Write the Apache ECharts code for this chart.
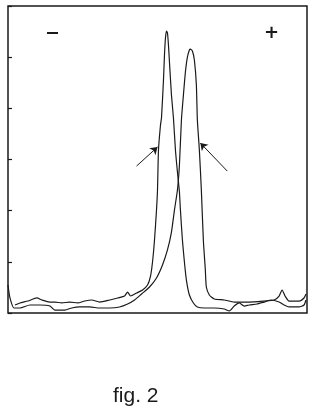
<!DOCTYPE html>
<html>
<head>
<meta charset="utf-8">
<script src="https://cdn.jsdelivr.net/npm/echarts@6/dist/echarts.min.js"></script>
<style>
  html, body { margin: 0; padding: 0; background: #fff; }
  #chart { width: 318px; height: 418px; }
</style>
</head>
<body>
<div id="chart"></div>
<script>
// 曲线数据 (位置, 强度)
const minusX = [7, 12, 20, 29, 34, 42, 47, 54, 62, 70, 77, 84, 92, 102, 110, 117, 120, 123, 129, 135, 140, 143, 145, 147, 149, 150, 151, 153, 154, 156, 157, 158, 159, 160, 161, 162, 164, 166, 168, 170, 172, 173, 175, 177, 179, 182, 186, 190, 197, 207, 217, 222, 227, 232, 237, 242, 250, 257, 264, 272, 277, 282, 292, 297, 299];
const minusY = [7.8, 9.8, 11.7, 14.7, 12.7, 10.7, 10.7, 9.8, 10.7, 9.8, 11.7, 12.7, 10.7, 12.7, 14.7, 16.6, 20.5, 16.6, 19.5, 22.5, 27.4, 36.1, 49.8, 71.3, 100.6, 120.2, 159.3, 183.7, 190.5, 227.6, 252.1, 268.7, 275.5, 273.6, 261.8, 245.2, 213.0, 190.5, 159.3, 137.8, 118.2, 100.6, 71.3, 49.8, 32.2, 17.6, 9.8, 5.9, 4.9, 4.9, 3.9, 2.0, 6.8, 9.8, 6.8, 7.8, 8.8, 10.7, 12.7, 10.7, 7.8, 5.9, 5.9, 7.8, 12.7];

const plusX = [0, 2, 6, 12, 22, 32, 42, 47, 57, 64, 72, 82, 92, 102, 112, 120, 127, 134, 142, 149, 155, 160, 164, 167, 170, 172, 174, 176, 178, 180, 182, 183, 185, 187, 189, 190, 192, 194, 196, 198, 199, 202, 207, 217, 227, 242, 257, 267, 272, 275, 278, 282, 292, 297, 299];
const plusY = [27.4, 14.7, 4.9, 4.9, 7.8, 7.8, 6.8, 2.9, 2.9, 4.9, 5.9, 5.9, 4.9, 4.9, 5.9, 8.8, 12.7, 18.6, 25.4, 34.2, 46.9, 61.6, 79.1, 100.6, 120.2, 144.6, 188.6, 213.0, 235.5, 250.1, 257.0, 257.9, 256.0, 247.2, 222.8, 188.6, 159.3, 120.2, 71.3, 42.0, 25.4, 17.6, 13.7, 12.7, 10.7, 10.7, 11.7, 12.7, 16.6, 22.5, 16.6, 11.7, 11.7, 14.7, 18.6];

// 箭头 [起点x, 起点y, 终点x, 终点y]
const arrows = [
    [129, 143.6, 150, 162.2],
    [220, 138.7, 193, 166.1]
];

const yTicks = [0, 50, 100, 150, 200, 250, 300];

const ink = '#1a1a1a';
const chart = echarts.init(document.getElementById('chart'));

const toPairs = (xs, ys) => xs.map((x, i) => [x, ys[i]]);

chart.setOption({
    backgroundColor: '#fff',
    animation: false,
    grid: {
        left: 8, top: 6, right: 11, bottom: 105,
        show: true, borderColor: ink, borderWidth: 1.5
    },
    xAxis: {
        type: 'value', min: 0, max: 300,
        axisLine: { show: false },
        axisTick: { show: false },
        axisLabel: { show: false },
        splitLine: { show: false }
    },
    yAxis: {
        type: 'value', min: yTicks[0], max: yTicks[yTicks.length - 1], interval: 50,
        axisLine: { show: false },
        axisTick: { show: true, inside: true, length: 4, lineStyle: { color: ink, width: 1.2 } },
        axisLabel: { show: false },
        splitLine: { show: false }
    },
    series: [
        {
            name: '-',
            type: 'line',
            data: toPairs(minusX, minusY),
            showSymbol: false,
            smooth: 0.2,
            lineStyle: { color: ink, width: 1.2 },
            markLine: {
                silent: true,
                symbol: ['none', 'arrow'],
                symbolSize: 7,
                label: { show: false },
                lineStyle: { color: ink, width: 1, type: 'solid' },
                data: arrows.map(a => [{ coord: [a[0], a[1]] }, { coord: [a[2], a[3]] }])
            }
        },
        {
            name: '+',
            type: 'line',
            data: toPairs(plusX, plusY),
            showSymbol: false,
            smooth: 0.2,
            lineStyle: { color: ink, width: 1.2 }
        }
    ],
    graphic: [
        { type: 'rect', left: 47, top: 32, shape: { width: 11, height: 2 }, style: { fill: ink } },
        { type: 'text', left: 264, top: 24, style: { text: '+', font: 'bold 18px "DejaVu Sans"', fill: ink } },
        { type: 'text', left: 113, top: 386, style: { text: 'fig. 2', font: '21px "Liberation Sans"', fill: ink } }
    ]
});
</script>
</body>
</html>
